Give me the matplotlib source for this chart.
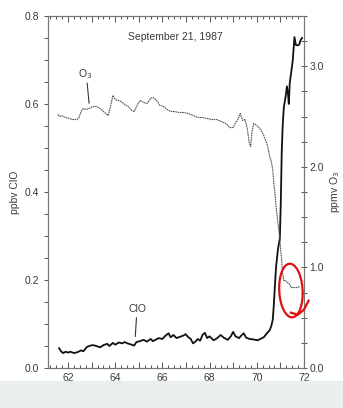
import matplotlib
matplotlib.use('Agg')
import matplotlib.pyplot as plt
from matplotlib.ticker import MultipleLocator, FuncFormatter, FormatStrFormatter
from matplotlib.patches import Ellipse, Rectangle

# ClO (ppbv) along the flight track
clo_lat = [61.62, 61.70, 61.79, 61.90, 62.00, 62.10, 62.25, 62.40, 62.55, 62.65,
           62.80, 62.95, 63.06, 63.20, 63.36, 63.50, 63.66, 63.75, 63.90, 64.00,
           64.15, 64.30, 64.40, 64.52, 64.64, 64.80, 64.90, 65.05, 65.20, 65.35,
           65.50, 65.60, 65.70, 65.85, 66.00, 66.10, 66.26, 66.35, 66.47, 66.60,
           66.75, 66.90, 66.98, 67.10, 67.20, 67.30, 67.40, 67.50, 67.60, 67.70,
           67.80, 67.90, 68.00, 68.17, 68.30, 68.47, 68.60, 68.77, 68.90, 69.00,
           69.10, 69.25, 69.35, 69.45, 69.55, 69.70, 69.85, 70.04, 70.15, 70.30,
           70.45, 70.55, 70.62, 70.68, 70.72, 70.76, 70.82, 70.90, 70.98, 71.02,
           71.06, 71.10, 71.15, 71.22, 71.28, 71.33, 71.36, 71.40, 71.47, 71.53,
           71.60, 71.66, 71.73, 71.80, 71.86, 71.92]
clo_val = [0.045, 0.038, 0.034, 0.037, 0.035, 0.037, 0.034, 0.036, 0.040, 0.038,
           0.048, 0.051, 0.052, 0.050, 0.047, 0.052, 0.055, 0.050, 0.057, 0.053,
           0.058, 0.056, 0.059, 0.056, 0.054, 0.051, 0.059, 0.061, 0.064, 0.060,
           0.066, 0.061, 0.064, 0.068, 0.066, 0.072, 0.079, 0.070, 0.075, 0.068,
           0.071, 0.074, 0.077, 0.070, 0.066, 0.056, 0.060, 0.066, 0.062, 0.075,
           0.080, 0.068, 0.072, 0.063, 0.067, 0.075, 0.069, 0.064, 0.072, 0.082,
           0.072, 0.068, 0.074, 0.079, 0.069, 0.066, 0.065, 0.063, 0.066, 0.070,
           0.080, 0.086, 0.096, 0.110, 0.139, 0.177, 0.230, 0.270, 0.295, 0.375,
           0.490, 0.550, 0.593, 0.615, 0.640, 0.620, 0.600, 0.648, 0.675, 0.700,
           0.752, 0.734, 0.733, 0.735, 0.745, 0.750]

# O3 (ppmv)
o3_lat = [61.57, 61.65, 61.72, 61.79, 61.90, 62.05, 62.20, 62.35, 62.45, 62.55,
          62.64, 62.75, 62.90, 63.05, 63.20, 63.35, 63.55, 63.70, 63.80, 63.90,
          64.00, 64.10, 64.25, 64.40, 64.55, 64.70, 64.80, 64.95, 65.06, 65.20,
          65.35, 65.50, 65.60, 65.75, 65.90, 66.05, 66.20, 66.35, 66.50, 66.70,
          66.90, 67.10, 67.30, 67.50, 67.70, 67.90, 68.10, 68.30, 68.50, 68.70,
          68.85, 69.00, 69.10, 69.20, 69.30, 69.40, 69.50, 69.60, 69.68, 69.74,
          69.80, 69.87, 69.95, 70.05, 70.17, 70.30, 70.40, 70.47, 70.55, 70.62,
          70.68, 70.72, 70.77, 70.81, 70.85, 70.92, 70.98, 71.02, 71.06, 71.10,
          71.15, 71.22, 71.30, 71.38, 71.45, 71.57, 71.70, 71.83]
o3_val = [2.52, 2.50, 2.51, 2.50, 2.49, 2.48, 2.47, 2.47, 2.48, 2.55,
          2.58, 2.57, 2.58, 2.60, 2.60, 2.58, 2.54, 2.51, 2.60, 2.71,
          2.67, 2.66, 2.65, 2.62, 2.60, 2.56, 2.55, 2.62, 2.66, 2.64,
          2.63, 2.68, 2.69, 2.66, 2.61, 2.60, 2.57, 2.55, 2.55, 2.54,
          2.54, 2.53, 2.51, 2.49, 2.49, 2.48, 2.47, 2.47, 2.45, 2.43,
          2.39, 2.39, 2.44, 2.47, 2.53, 2.46, 2.47, 2.38, 2.24, 2.20,
          2.35, 2.43, 2.42, 2.40, 2.37, 2.31, 2.25, 2.20, 2.10, 2.05,
          1.97, 1.85, 1.74, 1.63, 1.54, 1.40, 1.29, 1.16, 1.07, 0.94,
          0.87, 0.87, 0.85, 0.84, 0.80, 0.80, 0.80, 0.81]

plt.rcParams['font.family'] = ['Liberation Sans', 'DejaVu Sans']
txt = '#3a3a3a'
spine_c = '#777777'

fig = plt.figure(figsize=(3.43, 4.08), dpi=100)
fig.patches.append(Rectangle((0, 0), 1, 0.065, transform=fig.transFigure,
                             color='#e9f0ed', zorder=0))
ax = fig.add_axes([0.140, 0.098, 0.746, 0.863])
ax2 = ax.twinx()

ax.plot(clo_lat, clo_val, color='#111111', lw=1.3)
ax2.plot(o3_lat, o3_val, color='#555555', lw=0.8, ls=(0, (1.5, 0.6)))

ax.set_xlim(61.15, 72.0)
ax.set_ylim(0, 0.8)
ax2.set_ylim(0, 3.5)

ax.xaxis.set_major_locator(MultipleLocator(1))
ax.xaxis.set_minor_locator(MultipleLocator(0.25))
ax.xaxis.set_major_formatter(FuncFormatter(lambda v, p: '%d' % v if int(round(v)) % 2 == 0 else ''))
ax.yaxis.set_major_locator(MultipleLocator(0.2))
ax.yaxis.set_minor_locator(MultipleLocator(0.05))
ax.yaxis.set_major_formatter(FormatStrFormatter('%.1f'))
ax2.yaxis.set_major_locator(MultipleLocator(1.0))
ax2.yaxis.set_minor_locator(MultipleLocator(0.25))
ax2.yaxis.set_major_formatter(FormatStrFormatter('%.1f'))

ax.tick_params(axis='x', which='both', direction='in', top=True, colors=txt,
               labelsize=7.5, length=4, width=0.6)
ax.tick_params(axis='x', which='minor', length=2.5)
ax.tick_params(axis='y', which='both', direction='out', colors=txt,
               labelsize=7.5, length=3, width=0.6)
ax2.tick_params(axis='y', which='both', direction='inout', colors=txt,
                labelsize=7.5, length=4, width=0.6, pad=2)
for a in (ax, ax2):
    for s in a.spines.values():
        s.set_color(spine_c)
        s.set_linewidth(0.8)

ax.set_xlabel('Latitude degrees south', fontsize=7.5, color=txt, labelpad=2)
ax.set_ylabel('ppbv ClO', fontsize=7.5, color=txt, labelpad=3)
ax2.set_ylabel('ppmv O$_3$', fontsize=7.5, color=txt, labelpad=3)

ax.text(66.55, 0.752, 'September 21, 1987', ha='center', va='center',
        fontsize=7.5, color=txt)
ax.text(62.72, 0.668, 'O$_3$', ha='center', va='center', fontsize=7.5, color=txt)
ax.plot([62.81, 62.89], [0.647, 0.602], color='#333333', lw=0.8)
ax.text(64.95, 0.134, 'ClO', ha='center', va='center', fontsize=7.5, color=txt)
ax.plot([64.9, 64.85], [0.114, 0.072], color='#333333', lw=0.8)

# red hand-drawn circle
ax2.add_patch(Ellipse((71.45, 0.77), 1.0, 0.53, angle=-4, fill=False,
                      edgecolor='#e01010', lw=1.6, clip_on=False, zorder=5))
ax2.plot([71.45, 71.75, 72.0, 72.2], [0.55, 0.53, 0.58, 0.67], color='#e01010',
         lw=1.6, clip_on=False, zorder=5)

fig.savefig('out.png', dpi=100)
